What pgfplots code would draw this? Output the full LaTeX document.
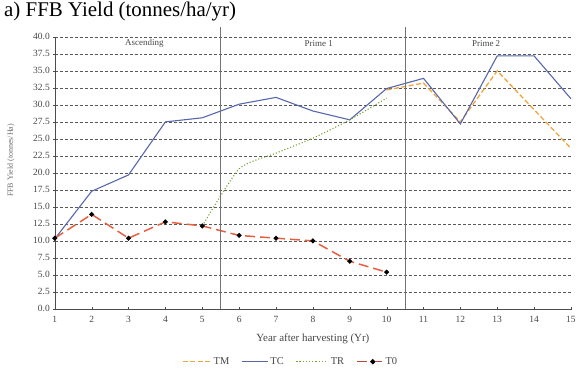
\documentclass[border=0pt]{standalone}
\usepackage{pgfplots}
\pgfplotsset{compat=1.18}
\usepackage{fontspec}
\setmainfont{Liberation Serif}
\definecolor{cTC}{RGB}{88,102,172}
\definecolor{cTM}{RGB}{240,165,60}
\definecolor{cTR}{RGB}{120,160,50}
\definecolor{cT0}{RGB}{230,95,65}
\definecolor{txt}{RGB}{70,70,70}
\begin{document}
\begin{tikzpicture}[x=1pt,y=1pt]
\path (0,0) rectangle (579,371);
\node[anchor=north west,inner sep=0pt,font=\fontsize{21}{24}\selectfont] at (4,369) {a) FFB Yield (tonnes/ha/yr)};
\node[rotate=90,font=\fontsize{8}{9}\selectfont, text=txt!80] at (11,210) {FFB Yield (tonnes/Ha)};
\begin{axis}[
  at={(55pt,61pt)}, anchor=south west,
  scale only axis, width=518pt, height=273pt,
  xmin=1, xmax=15, ymin=0, ymax=40,
  xtick={1,...,15},
  ytick={0,2.5,...,40},
  axis x line=bottom, axis y line=left,
  axis line style={black!70,-},
  tick align=center, major tick length=3pt,
  tick style={black!70},
  ymajorgrids,
  grid style={black!65, dash pattern=on 3pt off 2pt, line width=0.7pt},
  y tick label style={/pgf/number format/.cd, fixed, fixed zerofill, precision=1},
  x tick label style={yshift=-2pt},
  tick label style={font=\fontsize{9.5}{11}\selectfont, text=txt},
  /pgf/number format/assume math mode=true,
  xlabel={Year after harvesting (Yr)},
  xlabel style={font=\fontsize{11}{13}\selectfont, text=txt, at={(axis description cs:0.5,0)}, anchor=north, yshift=-21pt},
  legend style={at={(0.457,-0.194)}, anchor=center, draw=none, legend columns=4, font=\fontsize{10.5}{12}\selectfont,
     /tikz/every even column/.append style={column sep=10pt}},
  clip=false,
]
\addplot[cTM, line width=1.3pt, dash pattern=on 5pt off 2.5pt,
  legend image code/.code={\draw[draw=cTM, line width=1.5pt, dash pattern=on 5pt off 2.5pt] (0pt,0pt) -- (28pt,0pt);}]
  coordinates {(10,32.2) (11,33.2) (12,27.5) (13,35.0) (14,29.3) (15,23.6)};
\addlegendentry{\textcolor{txt}{TM}}
\addplot[cTC, line width=1.1pt,
  legend image code/.code={\draw[draw=cTC, line width=1.2pt] (0pt,0pt) -- (26pt,0pt);}]
  coordinates {(1,10.3) (2,17.3) (3,19.7) (4,27.5) (5,28.1) (6,30.1) (7,31.1) (8,29.1) (9,27.8) (10,32.4) (11,33.9) (12,27.2) (13,37.2) (14,37.2) (15,30.9)};
\addlegendentry{\textcolor{txt}{TC}}
\addplot[cTR, line width=1.1pt, dotted, smooth, tension=0.35,
  legend image code/.code={\draw[draw=cTR, line width=1.2pt, dotted] (0pt,0pt) -- (32pt,0pt);}]
  coordinates {(5,12.2) (6,20.6) (7,22.9) (8,25.1) (9,27.8) (10,31.0)};
\addlegendentry{\textcolor{txt}{TR}}
\addplot[cT0, line width=1.5pt, dash pattern=on 10pt off 5pt, mark=*, mark size=1.6pt, mark options={fill=black, draw=black, solid},
  legend image code/.code={\draw[draw=cT0!80!black, line width=1.5pt] (0pt,0pt) -- (26pt,0pt); \fill[black] (16pt,0pt) circle (1.8pt);}]
  coordinates {(1,10.4) (2,13.9) (3,10.4) (4,12.8) (5,12.2) (6,10.8) (7,10.4) (8,10.0) (9,7.0) (10,5.4)};
\addlegendentry{\textcolor{txt}{T0}}
\draw[black!55, line width=0.8pt] (axis cs:5.5,0) -- (axis cs:5.5,41.5);
\draw[black!55, line width=0.8pt] (axis cs:10.5,0) -- (axis cs:10.5,41.5);
\node[font=\fontsize{9}{10}\selectfont, text=txt] at (axis cs:3.43,39.0) {Ascending};
\node[font=\fontsize{9}{10}\selectfont, text=txt] at (axis cs:8.16,39.0) {Prime 1};
\node[font=\fontsize{9}{10}\selectfont, text=txt] at (axis cs:12.7,39.0) {Prime 2};
\end{axis}
\end{tikzpicture}
\end{document}
